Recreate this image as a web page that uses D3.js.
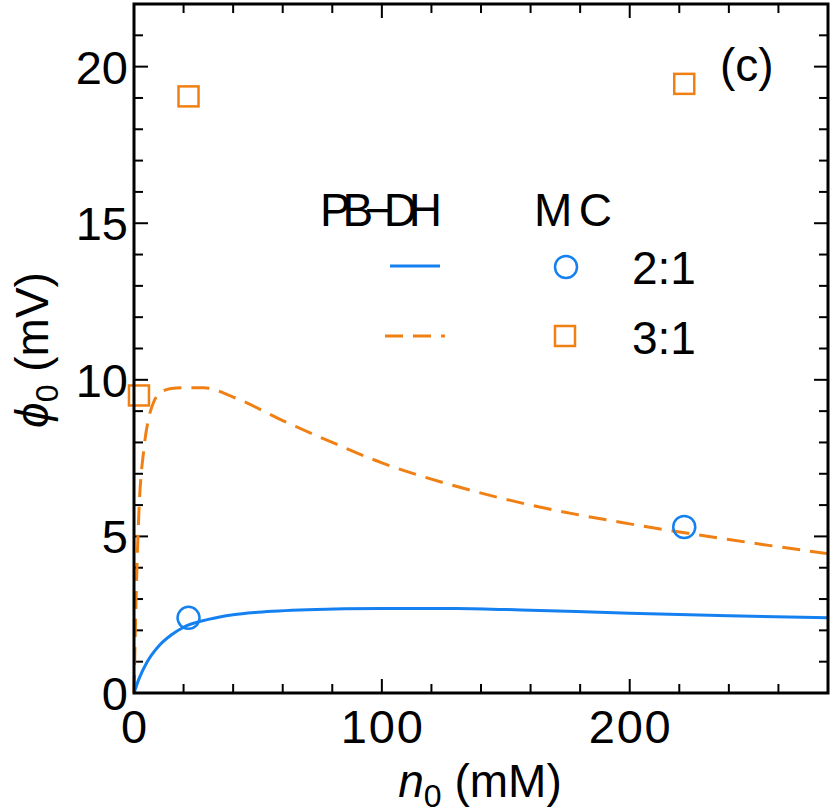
<!DOCTYPE html><html><head><meta charset="utf-8"><script src="https://cdn.jsdelivr.net/npm/d3@7"></script>
<style>body{margin:0;background:#fff}text{font-family:"Liberation Sans",Arial,sans-serif}</style></head><body><svg id="c" width="830" height="811"></svg>
<script>
const pbdh21 = [[0,0],[2,0.45],[5,0.95],[10,1.5],[15,1.85],[20,2.1],[30,2.35],[40,2.5],[50,2.58],[70,2.66],[100,2.7],[130,2.7],[160,2.64],[200,2.55],[240,2.47],[280,2.4]];
const pbdh31 = [[0,0],[1,3.5],[2,5.8],[4,7.8],[6,8.8],[8,9.3],[10,9.55],[15,9.72],[20,9.75],[28,9.75],[40,9.45],[60,8.7],[80,8.0],[100,7.35],[130,6.6],[160,6.0],[200,5.4],[240,4.9],[280,4.45]];
const mc21 = [[22,2.4],[222,5.3]];
const mc31 = [[2,9.5],[22,19.05],[222,19.45]];
const blue="#1580f0", orange="#f08014";
const svg=d3.select("#c");
const L=134,R=828,T=4,B=693;
const x=d3.scaleLinear().domain([0,280]).range([L,R]);
const y=d3.scaleLinear().domain([0,22]).range([B,T]);
const g=svg.append("g");
const xt=d3.range(0,281,20), yt=d3.range(0,23,1);
xt.forEach(v=>{const len=v%100===0?14:9;
 g.append("line").attr("x1",x(v)).attr("x2",x(v)).attr("y1",B).attr("y2",B-len).attr("stroke","#000").attr("stroke-width",2);
 g.append("line").attr("x1",x(v)).attr("x2",x(v)).attr("y1",T).attr("y2",T+len).attr("stroke","#000").attr("stroke-width",2);});
yt.forEach(v=>{const len=v%5===0?14:9;
 g.append("line").attr("y1",y(v)).attr("y2",y(v)).attr("x1",L).attr("x2",L+len).attr("stroke","#000").attr("stroke-width",2);
 g.append("line").attr("y1",y(v)).attr("y2",y(v)).attr("x1",R).attr("x2",R-len).attr("stroke","#000").attr("stroke-width",2);});
[0,100,200].forEach(v=>g.append("text").attr("x",x(v)).attr("y",B+50).attr("text-anchor","middle").attr("font-size",47).attr("textLength",v?82:27).text(v));
[0,5,10,15,20].forEach(v=>g.append("text").attr("x",L-6).attr("y",y(v)+17).attr("text-anchor","end").attr("font-size",47).text(v));
const line=d3.line().x(d=>x(d[0])).y(d=>y(d[1])).curve(d3.curveMonotoneX);
g.append("path").attr("d",line(pbdh21)).attr("fill","none").attr("stroke",blue).attr("stroke-width",3);
g.append("path").attr("d",line(pbdh31)).attr("fill","none").attr("stroke",orange).attr("stroke-width",3).attr("stroke-dasharray","18,10");
mc21.forEach(d=>g.append("circle").attr("cx",x(d[0])).attr("cy",y(d[1])).attr("r",11).attr("fill","none").attr("stroke",blue).attr("stroke-width",2.5));
mc31.forEach(d=>g.append("rect").attr("x",x(d[0])-10).attr("y",y(d[1])-10).attr("width",20).attr("height",20).attr("fill","none").attr("stroke",orange).attr("stroke-width",2.5));
g.append("rect").attr("x",L).attr("y",T).attr("width",R-L).attr("height",B-T).attr("fill","none").attr("stroke","#000").attr("stroke-width",3);
g.append("text").attr("x",320).attr("y",226).attr("font-size",46).attr("textLength",122).text("PB\u2212DH");
g.append("text").attr("x",534).attr("y",226).attr("font-size",46).attr("textLength",78).text("MC");
g.append("line").attr("x1",390).attr("x2",440).attr("y1",266).attr("y2",266).attr("stroke",blue).attr("stroke-width",3);
g.append("circle").attr("cx",566).attr("cy",267).attr("r",11).attr("fill","none").attr("stroke",blue).attr("stroke-width",2.5);
g.append("text").attr("x",632).attr("y",284).attr("font-size",46).text("2:1");
g.append("line").attr("x1",385).attr("x2",445).attr("y1",336).attr("y2",336).attr("stroke",orange).attr("stroke-width",3).attr("stroke-dasharray","18,10");
g.append("rect").attr("x",555).attr("y",326).attr("width",20).attr("height",20).attr("fill","none").attr("stroke",orange).attr("stroke-width",2.5);
g.append("text").attr("x",632).attr("y",354).attr("font-size",46).text("3:1");
g.append("text").attr("x",720).attr("y",81).attr("font-size",46).text("(c)");
const xl=g.append("text").attr("x",480).attr("y",797).attr("text-anchor","middle").attr("font-size",46);
xl.append("tspan").attr("font-style","italic").text("n");xl.append("tspan").attr("font-size",32).attr("dy",10).text("0");xl.append("tspan").attr("dy",-10).text(" (mM)");
const yl=g.append("text").attr("transform","translate(48,350) rotate(-90)").attr("text-anchor","middle").attr("font-size",46);
yl.append("tspan").attr("font-style","italic").text("\u03d5");yl.append("tspan").attr("font-size",32).attr("dy",10).text("0");yl.append("tspan").attr("dy",-10).text(" (mV)");
</script></body></html>
